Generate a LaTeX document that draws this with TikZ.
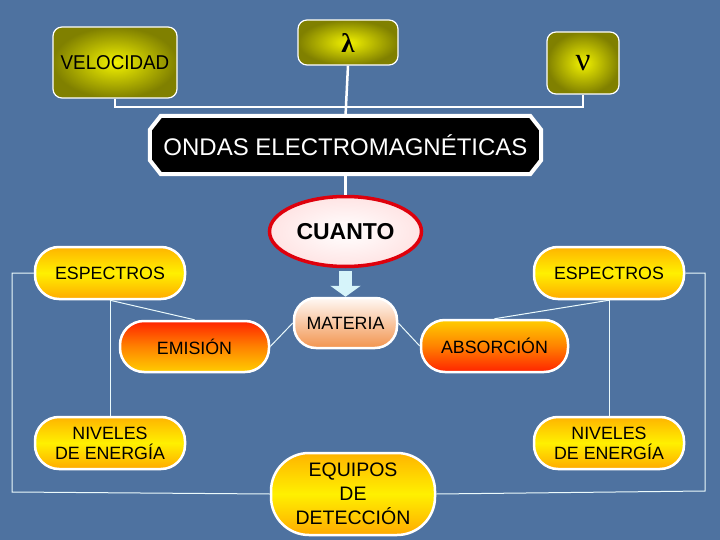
\documentclass[tikz,border=0pt]{standalone}
\usepackage{fontspec}
\setmainfont{Liberation Sans}
\newfontfamily\grk{Liberation Serif}
\usetikzlibrary{shapes.geometric,arrows.meta,calc}
\pgfdeclarelayer{bg}
\pgfsetlayers{bg,main}
\definecolor{bgblue}{RGB}{78,114,160}
\definecolor{yelc}{RGB}{242,242,0}
\definecolor{olivec}{RGB}{128,128,0}
\definecolor{orY}{RGB}{255,180,0}
\definecolor{yelM}{RGB}{255,240,0}
\definecolor{orB}{RGB}{255,170,0}
\definecolor{redT}{RGB}{255,35,0}
\definecolor{orM}{RGB}{255,130,0}
\definecolor{yelB}{RGB}{255,205,0}
\definecolor{peach}{RGB}{242,148,78}
\definecolor{peachT}{RGB}{255,248,244}
\definecolor{cred}{RGB}{222,0,12}
\definecolor{pinkish}{RGB}{255,228,228}
\definecolor{arrowc}{RGB}{214,244,250}
\definecolor{linec}{RGB}{235,250,252}
\begin{document}
\begin{tikzpicture}[x=1pt,y=-1pt,
  topconn/.style={draw=white,line width=2.5pt},
  thinconn/.style={draw=linec,line width=1pt},
  olivebox/.style={rectangle,rounded corners=9pt,draw=white,line width=1.2pt,
    inner color=yelc,outer color=olivec,align=center,inner sep=0pt},
  pill/.style={rectangle,rounded corners=24pt,draw=white,line width=2.5pt,
    align=center,inner sep=0pt,font=\fontsize{17.8}{20}\selectfont},
  yelpill/.style={pill,top color=orY,bottom color=orB,middle color=yelM},
  emispill/.style={pill,top color=redT,bottom color=yelB,middle color=orM},
  abspill/.style={pill,top color=yelB,bottom color=redT,middle color=orM}]
\useasboundingbox (0,0) rectangle (720,540);

% top boxes
\node[olivebox,minimum width=124pt,minimum height=71pt,
  font=\fontsize{20}{24}\selectfont] (vel) at (115,62.5) {\scalebox{0.94}[1]{VELOCIDAD}};
\node[olivebox,minimum width=100pt,minimum height=45pt,
  font=\grk\bfseries\fontsize{27}{28}\selectfont] (lam) at (348,42.5) {λ};
\node[olivebox,minimum width=72pt,minimum height=62pt,
  font=\grk\fontsize{33}{33}\selectfont] (nu) at (583,63) {ν};

% ondas
\node[minimum width=391pt,minimum height=58pt,inner sep=0pt,text=white,
  font=\fontsize{24}{28}\selectfont] (ondas) at (345.5,145) {ONDAS ELECTROMAGNÉTICAS};

\begin{pgfonlayer}{bg}
\fill[bgblue] (0,0) rectangle (720,540);
\filldraw[fill=black,draw=white,line width=4pt]
  ($(ondas.north west)+(11,0)$) -- ($(ondas.north east)+(-11,0)$)
  -- ($(ondas.north east)+(0,14)$) -- ($(ondas.south east)+(0,-14)$)
  -- ($(ondas.south east)+(-11,0)$) -- ($(ondas.south west)+(11,0)$)
  -- ($(ondas.south west)+(0,-14)$) -- ($(ondas.north west)+(0,14)$) -- cycle;
\end{pgfonlayer}

% cuanto
\node[ellipse,draw=cred,line width=3.5pt,inner color=white,outer color=pinkish,
  minimum width=152pt,minimum height=70pt,inner sep=0pt,
  font=\bfseries\fontsize{23}{26}\selectfont] (cuanto) at (345.5,231.5) {CUANTO};

% materia
\node[pill,rounded corners=22pt,top color=peachT,bottom color=peach,
  minimum width=103pt,minimum height=50pt] (materia) at (345.5,323) {MATERIA};

% espectros
\node[yelpill,minimum width=150pt,minimum height=52pt] (espL) at (110,273) {ESPECTROS};
\node[yelpill,minimum width=150pt,minimum height=52pt] (espR) at (609,273) {ESPECTROS};

% emision / absorcion
\node[emispill,minimum width=149pt,minimum height=51pt] (emis) at (194.5,346.5) {EMISIÓN};
\node[abspill,minimum width=147pt,minimum height=52pt] (absor) at (494.5,346) {ABSORCIÓN};

% niveles
\node[yelpill,minimum width=150pt,minimum height=52pt] (nivL) at (110,443) {NIVELES\\DE ENERGÍA};
\node[yelpill,minimum width=150pt,minimum height=52pt] (nivR) at (609,443) {NIVELES\\DE ENERGÍA};

% equipos
\node[yelpill,rounded corners=38pt,minimum width=164pt,minimum height=82pt,
  font=\fontsize{19.5}{24}\selectfont] (equip) at (353,494) {EQUIPOS\\DE\\DETECCIÓN};

% top connectors
\coordinate (jv) at (115,107);
\draw[topconn] (vel.south) -- (jv) -| (nu.south);
\draw[topconn] (lam.south) -- (ondas.north);
\draw[topconn] (ondas.south) -- (cuanto.north);

% arrow
\draw[draw=arrowc,line width=13pt,shorten <=2.5pt,
  -{Triangle[width=30pt,length=11pt]}] (cuanto.south) -- (materia.north);

% frame connectors
\coordinate (fl1) at (12,273);
\coordinate (fl2) at (12,492);
\coordinate (fr1) at (705,273);
\coordinate (fr2) at (705,491);
\draw[thinconn] (espL.west) -- (fl1) -- (fl2) -- (equip.west);
\draw[thinconn] (espR.east) -- (fr1) -- (fr2) -- (equip.east);
\draw[thinconn] (espL.south) -- (nivL.north);
\draw[thinconn] (espR.south) -- (nivR.north);
\draw[thinconn] (espL.south) -- (emis.north);
\draw[thinconn] (espR.south) -- (absor.north);
\draw[thinconn] (materia.west) -- (emis.east);
\draw[thinconn] (materia.east) -- (absor.west);
\end{tikzpicture}
\end{document}
